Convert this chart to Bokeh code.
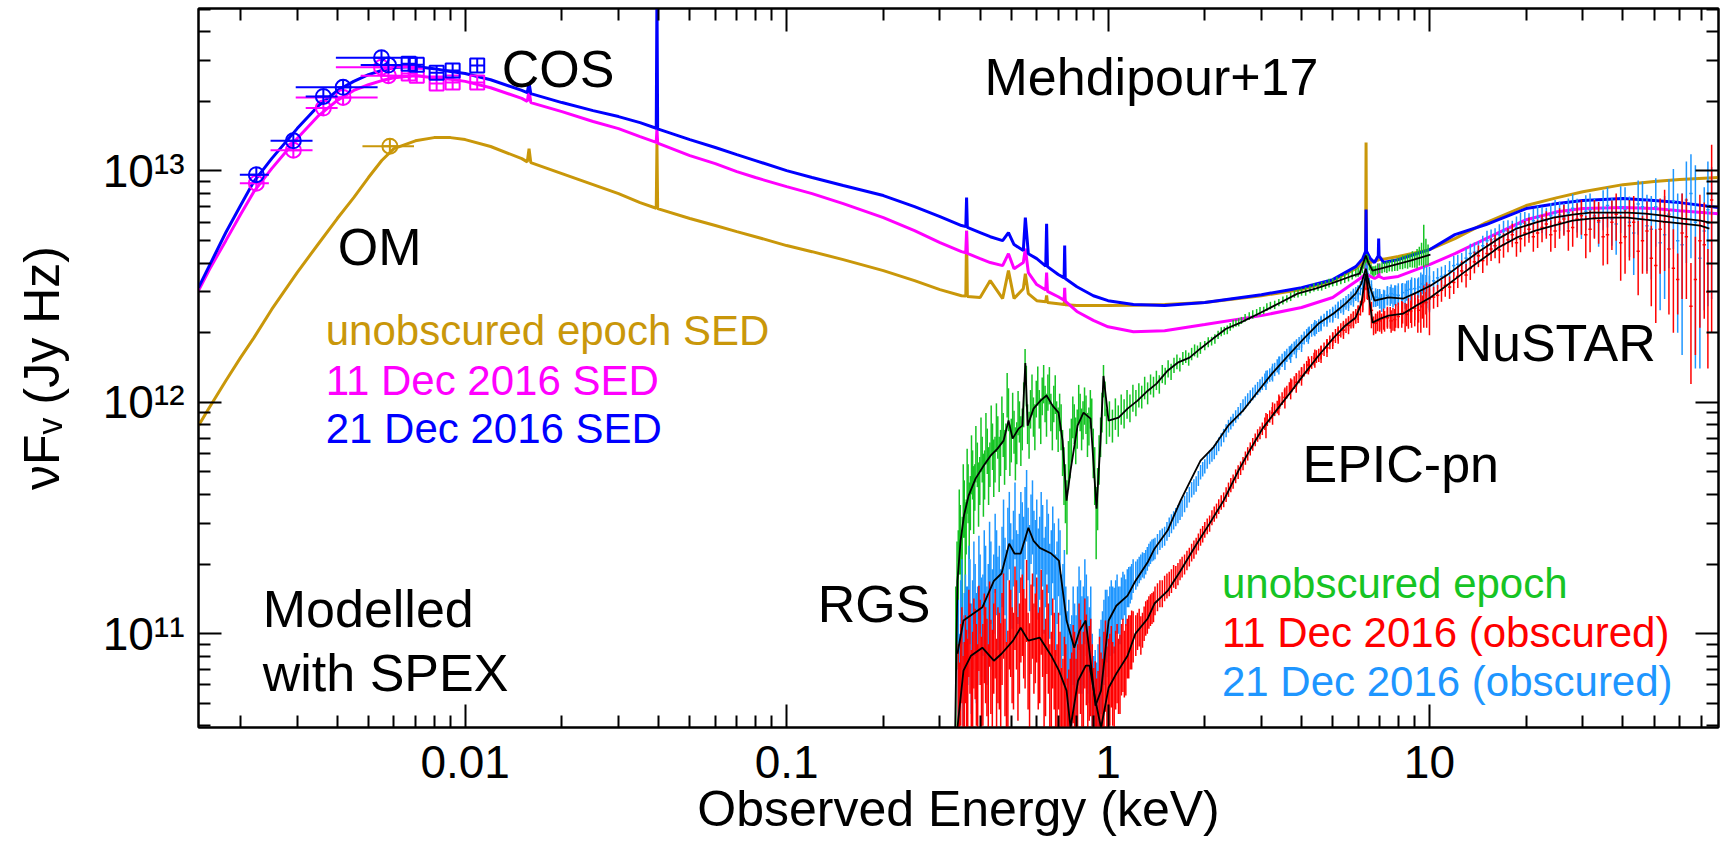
import numpy as np
from bokeh.plotting import figure
from bokeh.models import LogAxis, FixedTicker, CustomJSTickFormatter
from bokeh.core.properties import value
from bokeh.embed import file_html
from bokeh.resources import INLINE

U = 1e12  # all flux arrays below are in units of 1e12 Jy Hz

# ---------------- SED models (energy in keV) ----------------
SED_E = [0.00148, 0.0016, 0.0018, 0.002, 0.0022, 0.0025, 0.003, 0.0035, 0.004, 0.0045,
         0.005, 0.0055, 0.006, 0.007, 0.008, 0.009, 0.01, 0.012, 0.015, 0.0156,
         0.0158, 0.016, 0.02, 0.025, 0.03, 0.035, 0.0393, 0.0395, 0.0397, 0.05,
         0.06, 0.07, 0.08, 0.1, 0.12, 0.15, 0.2, 0.25, 0.3, 0.35,
         0.361, 0.363, 0.365, 0.4, 0.43, 0.47, 0.49, 0.51, 0.545, 0.553,
         0.565, 0.6, 0.64, 0.644, 0.648, 0.7, 0.73, 0.733, 0.736, 0.8,
         0.9, 1.0, 1.2, 1.5, 2, 3, 4, 5, 5.9, 6.2,
         6.33, 6.35, 6.37, 6.55, 6.75, 6.93, 6.95, 6.97, 7.2, 8,
         10, 12, 15, 20, 25, 30, 40, 50, 60, 79.3]
SED_21DEC = [3.13, 3.90, 5.42, 7.09, 9.00, 11.31, 15.25, 19.18, 22.27, 24.4,
             26.1, 27.2, 28.0, 28.3, 27.7, 26.9, 26.4, 24.8, 22.3, 21.8,
             24.1, 21.6, 19.76, 18.24, 17.19, 16.19, 15.3, 60.0, 15.2, 13.67,
             12.63, 11.77, 11.09, 10.04, 9.37, 8.65, 7.83, 7.02, 6.35, 5.81,
             5.75, 7.67, 5.70, 5.42, 5.20, 5.00, 5.42, 4.81, 4.53, 6.29,
             4.39, 4.18, 3.88, 5.92, 3.86, 3.57, 3.45, 4.76, 3.43, 3.16,
             2.89, 2.75, 2.65, 2.62, 2.70, 2.92, 3.13, 3.39, 3.86, 4.18,
             4.5, 6.81, 4.5, 4.18, 4.02, 4.3, 5.10, 4.3, 4.02, 4.14,
             4.57, 5.31, 5.87, 6.88, 7.23, 7.45, 7.60, 7.45, 7.30, 6.95]
SED_11DEC = [3.04, 3.75, 5.00, 6.48, 8.14, 10.24, 13.81, 17.36, 20.2, 22.3,
             23.6, 24.6, 25.3, 25.8, 25.3, 24.9, 24.4, 22.9, 20.6, 20.0,
             22.3, 19.76, 18.06, 16.36, 15.25, 14.08, 13.3, 15.2, 13.2, 11.66,
             10.76, 9.94, 9.37, 8.56, 7.98, 7.23, 6.29, 5.52, 4.90, 4.48,
             4.43, 5.52, 4.40, 4.18, 4.02, 3.90, 4.39, 3.78, 4.02, 4.62,
             3.64, 3.23, 3.06, 3.64, 3.02, 2.86, 2.76, 3.13, 2.74, 2.47,
             2.26, 2.12, 2.02, 2.04, 2.17, 2.37, 2.57, 2.84, 3.33, 3.50,
             3.6, 4.10, 3.6, 3.50, 3.43, 3.5, 3.98, 3.5, 3.43, 3.50,
             3.94, 4.39, 5.10, 6.16, 6.67, 6.88, 6.95, 6.88, 6.74, 6.54]
SED_UNOBS = [0.793, 0.949, 1.24, 1.56, 1.90, 2.52, 3.64, 4.86, 6.23, 7.67,
             9.37, 11.1, 12.50, 13.5, 13.94, 13.94, 13.67, 12.76, 11.31, 10.95,
             12.5, 10.87, 9.74, 8.73, 7.98, 7.30, 6.9, 13.14, 6.88, 6.23,
             5.81, 5.47, 5.20, 4.76, 4.48, 4.14, 3.71, 3.36, 3.07, 2.89,
             2.88, 5.52, 2.87, 2.84, 3.36, 2.81, 3.71, 2.81, 3.10, 3.60,
             2.95, 2.75, 2.72, 2.9, 2.70, 2.67, 2.65, 2.8, 2.64, 2.62,
             2.62, 2.62, 2.63, 2.65, 2.70, 2.89, 3.07, 3.36, 3.78, 4.02,
             4.2, 13.27, 4.2, 4.02, 4.08, 4.12, 4.14, 4.14, 4.16, 4.27,
             4.57, 5.10, 5.98, 7.09, 7.67, 8.14, 8.73, 9.00, 9.18, 9.37]

# ---------------- OM photometry and COS continuum points ----------------
OM_E = [0.00224, 0.00292, 0.00362, 0.00417, 0.00549, 0.00577]
OM_E_LO = [0.00199, 0.00248, 0.00319, 0.00297, 0.00396, 0.00473]
OM_E_HI = [0.00245, 0.00335, 0.00401, 0.00534, 0.00712, 0.00727]
OM_21DEC = [9.64, 13.5, 21.0, 23.0, 30.9, 28.7]
OM_11DEC = [8.85, 12.3, 18.7, 20.8, 28.1, 25.8]
OM_UNOBS_E = [0.00583]
OM_UNOBS_E_LO = [0.00479]
OM_UNOBS_E_HI = [0.00693]
OM_UNOBS = [12.8]
COS_E = [0.00667, 0.00707, 0.00815, 0.00914, 0.0109]
COS_21DEC = [29.1, 28.8, 26.6, 27.2, 28.6]
COS_11DEC = [26.4, 25.8, 23.9, 24.1, 24.1]

# ---------------- X-ray: unobscured epoch (RGS + EPIC-pn) ----------------
UNOBS_E = [0.336, 0.342, 0.347, 0.352, 0.357, 0.362, 0.367, 0.373, 0.379, 0.385,
           0.392, 0.399, 0.406, 0.413, 0.421, 0.429, 0.437, 0.445, 0.454, 0.463,
           0.472, 0.481, 0.490, 0.500, 0.510, 0.520, 0.530, 0.541, 0.552, 0.562,
           0.574, 0.586, 0.598, 0.611, 0.624, 0.637, 0.650, 0.664, 0.678, 0.692,
           0.707, 0.722, 0.737, 0.753, 0.769, 0.785, 0.802, 0.819, 0.836, 0.854,
           0.872, 0.890, 0.909, 0.928, 0.948, 0.968, 0.989, 1.010, 1.032, 1.054,
           1.076, 1.099, 1.122, 1.146, 1.170, 1.195, 1.221, 1.247, 1.273, 1.300,
           1.328, 1.356, 1.385, 1.414, 1.444, 1.475, 1.506, 1.538, 1.571, 1.604,
           1.638, 1.673, 1.709, 1.745, 1.782, 1.820, 1.859, 1.898, 1.938,
           2.0, 2.1, 2.2, 2.3, 2.4, 2.5, 2.6, 2.75, 2.9, 3.05,
           3.2, 3.4, 3.6, 3.8, 4.0, 4.25, 4.5, 4.75, 5.0, 5.3,
           5.6, 5.9, 6.1, 6.25, 6.38, 6.5, 6.65, 6.8, 7.0, 7.25,
           7.5, 7.8, 8.1, 8.4, 8.7, 9.0, 9.3, 9.6, 9.9]
UNOBS_F = [0.10, 0.20, 0.27, 0.22, 0.36, 0.30, 0.42, 0.38, 0.50, 0.44,
           0.55, 0.47, 0.58, 0.50, 0.63, 0.55, 0.66, 0.58, 0.72, 0.62,
           0.74, 0.66, 0.95, 0.70, 0.76, 0.68, 0.84, 0.78, 1.45, 0.82,
           0.95, 0.88, 1.05, 0.95, 1.08, 1.00, 1.12, 0.92, 1.00, 0.85,
           0.92, 0.62, 0.42, 0.55, 0.70, 0.82, 0.78, 0.92, 0.85, 0.90,
           0.80, 0.88, 0.50, 0.40, 0.72, 1.25, 0.80, 0.86, 0.80, 0.90,
           0.84, 0.94, 0.90, 0.99, 0.95, 1.05, 1.00, 1.08, 1.06, 1.16,
           1.10, 1.20, 1.17, 1.25, 1.20, 1.33, 1.30, 1.40, 1.36, 1.45,
           1.50, 1.46, 1.55, 1.58, 1.54, 1.62, 1.68, 1.66, 1.72,
           1.76, 1.84, 1.96, 2.04, 2.12, 2.20, 2.26, 2.36, 2.44, 2.50,
           2.62, 2.70, 2.80, 2.94, 3.00, 3.08, 3.16, 3.22, 3.30, 3.38,
           3.48, 3.62, 3.70, 3.96, 4.20, 3.90, 3.70, 3.72, 3.80, 3.84,
           3.88, 3.92, 4.00, 4.06, 4.12, 4.14, 4.30, 4.80, 4.36]
UNOBS_ERR = [0.06, 0.08, 0.09, 0.10, 0.10, 0.08, 0.12, 0.10, 0.12, 0.10,
             0.12, 0.11, 0.13, 0.12, 0.14, 0.12, 0.15, 0.13, 0.15, 0.14,
             0.16, 0.15, 0.20, 0.15, 0.16, 0.14, 0.17, 0.16, 0.25, 0.16,
             0.18, 0.17, 0.19, 0.18, 0.20, 0.18, 0.20, 0.17, 0.18, 0.16,
             0.17, 0.14, 0.12, 0.13, 0.15, 0.16, 0.15, 0.17, 0.16, 0.17,
             0.15, 0.16, 0.14, 0.12, 0.14, 0.20, 0.14, 0.15, 0.13, 0.14,
             0.13, 0.14, 0.13, 0.14, 0.13, 0.14, 0.13, 0.13, 0.12, 0.13,
             0.12, 0.12, 0.12, 0.12, 0.11, 0.12, 0.11, 0.12, 0.11, 0.11,
             0.11, 0.10, 0.10, 0.10, 0.10, 0.10, 0.10, 0.10, 0.10,
             0.08, 0.08, 0.08, 0.08, 0.08, 0.08, 0.08, 0.09, 0.09, 0.09,
             0.10, 0.10, 0.10, 0.11, 0.11, 0.12, 0.12, 0.13, 0.13, 0.14,
             0.15, 0.15, 0.16, 0.18, 0.18, 0.18, 0.17, 0.18, 0.18, 0.19,
             0.20, 0.22, 0.24, 0.26, 0.28, 0.32, 0.40, 1.05, 0.45]
# interleaved unobscured bins
UNOBS2_E = [0.339, 0.3445, 0.3495, 0.3545, 0.3595, 0.3645, 0.370, 0.376, 0.382, 0.388,
            0.3955, 0.4025, 0.4095, 0.417, 0.425, 0.433, 0.441, 0.4495, 0.4585, 0.4675,
            0.4765, 0.4855, 0.495, 0.505, 0.515, 0.525, 0.5355, 0.5465, 0.557, 0.568,
            0.580, 0.592, 0.6045, 0.6175, 0.6305, 0.6435, 0.657, 0.671, 0.685, 0.6995,
            0.7145, 0.7295, 0.745, 0.761, 0.777, 0.7935, 0.8105, 0.8275, 0.845, 0.863,
            0.881, 0.8995, 0.9185, 0.938, 0.958, 0.9785,
            2.05, 2.15, 2.25, 2.35, 2.45, 2.55, 2.67, 2.82, 2.97, 3.12,
            3.3, 3.5, 3.7, 3.9, 4.12, 4.37, 4.62, 4.87, 5.15, 5.45,
            5.75, 6.0, 6.18, 6.32, 6.44, 6.58, 6.72, 6.9, 7.12, 7.37,
            7.65, 7.95, 8.25, 8.55, 8.85, 9.15, 9.45, 9.75]
UNOBS2_F = [0.16, 0.30, 0.18, 0.40, 0.26, 0.48, 0.33, 0.56, 0.40, 0.62,
            0.42, 0.68, 0.46, 0.72, 0.50, 0.78, 0.54, 0.80, 0.56, 0.86,
            0.60, 1.10, 0.64, 0.90, 0.62, 0.92, 0.70, 1.00, 1.20, 0.74,
            1.10, 0.80, 1.20, 0.85, 1.22, 0.90, 1.20, 0.80, 1.10, 0.78,
            0.80, 0.50, 0.34, 0.62, 0.88, 0.70, 1.00, 0.78, 0.98, 0.74,
            0.95, 0.62, 0.32, 0.58, 0.92, 1.05,
            1.82, 1.88, 2.02, 2.06, 2.18, 2.22, 2.32, 2.40, 2.48, 2.58,
            2.64, 2.76, 2.86, 2.96, 3.02, 3.14, 3.18, 3.28, 3.34, 3.44,
            3.56, 3.66, 3.80, 4.10, 4.10, 3.76, 3.68, 3.78, 3.82, 3.84,
            3.92, 3.96, 4.04, 4.08, 4.16, 4.20, 4.40, 4.50]
UNOBS2_ERR = [0.09, 0.12, 0.10, 0.14, 0.11, 0.15, 0.12, 0.16, 0.13, 0.17,
              0.13, 0.18, 0.14, 0.18, 0.14, 0.19, 0.15, 0.19, 0.15, 0.20,
              0.16, 0.24, 0.16, 0.20, 0.16, 0.20, 0.17, 0.22, 0.24, 0.17,
              0.22, 0.18, 0.23, 0.19, 0.23, 0.19, 0.22, 0.18, 0.21, 0.17,
              0.18, 0.14, 0.12, 0.15, 0.18, 0.16, 0.19, 0.16, 0.18, 0.16,
              0.18, 0.15, 0.11, 0.14, 0.18, 0.18,
              0.09, 0.09, 0.09, 0.09, 0.09, 0.09, 0.09, 0.10, 0.10, 0.10,
              0.11, 0.11, 0.12, 0.12, 0.13, 0.13, 0.14, 0.14, 0.15, 0.16,
              0.16, 0.17, 0.18, 0.20, 0.20, 0.19, 0.19, 0.20, 0.21, 0.22,
              0.24, 0.26, 0.28, 0.30, 0.34, 0.40, 0.50, 0.60]
UNOBS_MODEL_E = [0.3346, 0.340, 0.3477, 0.3563, 0.3683, 0.3871, 0.4101, 0.4311, 0.4532, 0.4732,
                 0.4903, 0.5047, 0.5268, 0.5412, 0.553, 0.5622, 0.5865, 0.6166, 0.6438, 0.6721,
                 0.7015, 0.7221, 0.743, 0.7644, 0.8039, 0.8388, 0.8822, 0.921, 0.9477, 0.968,
                 1.0037, 1.0782, 1.1502, 1.2354, 1.3269, 1.4157, 1.532, 1.646, 1.793, 1.94,
                 2.123, 2.33, 2.583, 2.981, 3.44, 3.886, 4.42, 5.03, 5.68, 6.06,
                 6.23, 6.34, 6.45, 6.65, 7.04, 7.84, 8.73, 10.07]
UNOBS_MODEL_F = [0.0392, 0.169, 0.252, 0.324, 0.395, 0.468, 0.532, 0.588, 0.631, 0.683,
                 0.834, 0.697, 0.770, 0.793, 1.48, 0.793, 0.939, 1.017, 1.07, 0.968,
                 0.903, 0.683, 0.376, 0.507, 0.793, 0.903, 0.850, 0.347, 0.683, 1.30,
                 0.834, 0.859, 0.939, 1.017, 1.12, 1.205, 1.37, 1.484, 1.56, 1.71,
                 1.886, 2.08, 2.21, 2.44, 2.70, 2.95, 3.10, 3.29, 3.50, 3.60,
                 4.02, 4.31, 4.02, 3.71, 3.78, 3.94, 4.10, 4.35]

# ---------------- X-ray: obscured epochs, RGS + EPIC-pn ----------------
OBSC_E = [0.342, 0.348, 0.354, 0.360, 0.366, 0.372, 0.379, 0.386, 0.393, 0.400,
          0.408, 0.416, 0.424, 0.432, 0.441, 0.450, 0.459, 0.468, 0.478, 0.488,
          0.498, 0.508, 0.519, 0.530, 0.541, 0.552, 0.564, 0.576, 0.588, 0.600,
          0.613, 0.626, 0.639, 0.652, 0.666, 0.680, 0.694, 0.709, 0.724, 0.739,
          0.755, 0.771, 0.787, 0.804, 0.821, 0.838, 0.856, 0.874, 0.893, 0.912,
          0.931, 0.951, 0.971, 0.992, 1.013, 1.034, 1.056, 1.078, 1.101, 1.124,
          1.148, 1.172, 1.197,
          1.22, 1.25, 1.28, 1.31, 1.34, 1.37, 1.40, 1.45, 1.50, 1.55,
          1.60, 1.65, 1.70, 1.76, 1.82, 1.88, 1.94, 2.00, 2.07, 2.14,
          2.21, 2.29, 2.37, 2.45, 2.54, 2.63, 2.72, 2.82, 2.92, 3.02,
          3.13, 3.24, 3.36, 3.48, 3.60, 3.73, 3.86, 4.00, 4.15, 4.30,
          4.45, 4.60, 4.80, 5.00, 5.20, 5.40, 5.60, 5.80, 6.00, 6.20,
          6.35, 6.50, 6.70, 6.90, 7.10, 7.40, 7.70, 8.00, 8.40, 8.80,
          9.20, 9.60, 10.0]
DEC11_F = [0.060, 0.075, 0.050, 0.085, 0.065, 0.095, 0.070, 0.090, 0.060, 0.100,
           0.075, 0.090, 0.060, 0.080, 0.095, 0.065, 0.085, 0.105, 0.080, 0.070,
           0.110, 0.085, 0.120, 0.095, 0.130, 0.100, 0.085, 0.115, 0.095, 0.125,
           0.090, 0.110, 0.080, 0.095, 0.070, 0.085, 0.060, 0.070, 0.050, 0.060,
           0.045, 0.055, 0.070, 0.060, 0.080, 0.070, 0.085, 0.075, 0.060, 0.050,
           0.045, 0.055, 0.070, 0.060, 0.070, 0.066, 0.075, 0.070, 0.082, 0.078,
           0.090, 0.095, 0.100,
           0.100, 0.108, 0.105, 0.118, 0.125, 0.130, 0.140, 0.150, 0.158, 0.165,
           0.178, 0.182, 0.195, 0.208, 0.225, 0.240, 0.262, 0.282, 0.300, 0.330,
           0.355, 0.380, 0.420, 0.455, 0.500, 0.545, 0.600, 0.660, 0.720, 0.770,
           0.840, 0.900, 0.955, 1.040, 1.110, 1.180, 1.250, 1.330, 1.420, 1.490,
           1.580, 1.640, 1.760, 1.880, 1.990, 2.100, 2.200, 2.300, 2.450, 2.700,
           3.300, 2.600, 2.150, 2.250, 2.200, 2.350, 2.300, 2.400, 2.350, 2.500,
           2.450, 2.650, 2.600]
DEC11_ERR = [0.030, 0.035, 0.030, 0.035, 0.030, 0.040, 0.032, 0.038, 0.030, 0.040,
             0.035, 0.040, 0.030, 0.035, 0.040, 0.030, 0.038, 0.045, 0.036, 0.033,
             0.045, 0.038, 0.050, 0.040, 0.050, 0.042, 0.038, 0.048, 0.040, 0.050,
             0.040, 0.045, 0.036, 0.040, 0.032, 0.038, 0.030, 0.032, 0.028, 0.030,
             0.025, 0.028, 0.032, 0.030, 0.035, 0.032, 0.036, 0.033, 0.030, 0.026,
             0.024, 0.028, 0.032, 0.028, 0.030, 0.026, 0.028, 0.025, 0.028, 0.025,
             0.026, 0.025, 0.025,
             0.020, 0.020, 0.018, 0.020, 0.020, 0.020, 0.020, 0.020, 0.020, 0.020,
             0.020, 0.020, 0.020, 0.020, 0.020, 0.020, 0.022, 0.022, 0.024, 0.025,
             0.026, 0.028, 0.030, 0.032, 0.034, 0.036, 0.040, 0.042, 0.045, 0.048,
             0.050, 0.055, 0.060, 0.065, 0.070, 0.075, 0.080, 0.085, 0.090, 0.095,
             0.100, 0.110, 0.120, 0.130, 0.140, 0.150, 0.160, 0.170, 0.180, 0.200,
             0.250, 0.220, 0.200, 0.220, 0.220, 0.240, 0.260, 0.300, 0.340, 0.400,
             0.450, 0.550, 0.650]
DEC21_F = [0.090, 0.120, 0.080, 0.130, 0.110, 0.150, 0.120, 0.140, 0.110, 0.160,
           0.130, 0.170, 0.140, 0.180, 0.160, 0.200, 0.170, 0.210, 0.190, 0.260,
           0.220, 0.250, 0.200, 0.240, 0.270, 0.320, 0.260, 0.300, 0.250, 0.280,
           0.230, 0.260, 0.210, 0.240, 0.200, 0.220, 0.180, 0.200, 0.140, 0.110,
           0.090, 0.080, 0.095, 0.110, 0.120, 0.110, 0.130, 0.090, 0.065, 0.055,
           0.060, 0.080, 0.100, 0.115, 0.120, 0.125, 0.135, 0.130, 0.145, 0.150,
           0.160, 0.165, 0.180,
           0.180, 0.190, 0.200, 0.205, 0.220, 0.230, 0.235, 0.255, 0.265, 0.290,
           0.310, 0.330, 0.350, 0.380, 0.420, 0.445, 0.500, 0.530, 0.580, 0.610,
           0.660, 0.720, 0.790, 0.840, 0.900, 0.970, 1.030, 1.090, 1.150, 1.210,
           1.290, 1.340, 1.440, 1.520, 1.600, 1.680, 1.760, 1.840, 1.950, 2.050,
           2.110, 2.200, 2.340, 2.400, 2.560, 2.640, 2.750, 2.900, 3.000, 3.250,
           3.700, 3.200, 2.800, 2.850, 2.700, 2.900, 2.850, 2.950, 2.900, 3.050,
           2.950, 3.250, 3.150]
DEC21_ERR = [0.05, 0.05, 0.04, 0.05, 0.05, 0.06, 0.05, 0.06, 0.05, 0.06,
             0.05, 0.07, 0.06, 0.07, 0.06, 0.08, 0.07, 0.08, 0.07, 0.09,
             0.08, 0.09, 0.08, 0.09, 0.10, 0.11, 0.09, 0.10, 0.09, 0.10,
             0.09, 0.10, 0.08, 0.09, 0.08, 0.08, 0.07, 0.08, 0.06, 0.05,
             0.05, 0.04, 0.04, 0.05, 0.05, 0.05, 0.05, 0.04, 0.035, 0.03,
             0.03, 0.035, 0.04, 0.04, 0.04, 0.035, 0.035, 0.03, 0.03, 0.03,
             0.03, 0.03, 0.03,
             0.025, 0.025, 0.025, 0.025, 0.025, 0.025, 0.025, 0.025, 0.025, 0.028,
             0.028, 0.030, 0.030, 0.030, 0.032, 0.034, 0.036, 0.038, 0.040, 0.042,
             0.045, 0.048, 0.050, 0.052, 0.055, 0.060, 0.065, 0.070, 0.075, 0.080,
             0.085, 0.090, 0.095, 0.100, 0.105, 0.110, 0.115, 0.120, 0.125, 0.130,
             0.135, 0.140, 0.150, 0.160, 0.170, 0.180, 0.190, 0.200, 0.210, 0.230,
             0.280, 0.250, 0.220, 0.240, 0.240, 0.260, 0.280, 0.320, 0.360, 0.420,
             0.480, 0.600, 0.700]
# interleaved obscured bins (RGS part, then EPIC-pn part)
OBSC2_E = [0.345, 0.351, 0.357, 0.363, 0.369, 0.3755, 0.3825, 0.3895, 0.3965, 0.404,
           0.412, 0.420, 0.428, 0.4365, 0.4455, 0.4545, 0.4635, 0.473, 0.483, 0.493,
           0.503, 0.5135, 0.5245, 0.5355, 0.5465, 0.558, 0.570, 0.582, 0.594, 0.6065,
           0.6195, 0.6325, 0.6455, 0.659, 0.673, 0.687, 0.7015, 0.7165, 0.7315, 0.747,
           0.763, 0.779, 0.7955, 0.8125, 0.8295, 0.847, 0.865, 0.8835, 0.9025, 0.9215,
           0.941, 0.961, 0.9815, 1.0025, 1.0235, 1.045, 1.067, 1.0895, 1.1125, 1.136,
           1.160, 1.1845,
           1.235, 1.265, 1.295, 1.325, 1.355, 1.385, 1.425, 1.475, 1.525, 1.575,
           1.625, 1.675, 1.73, 1.79, 1.85, 1.91, 1.97, 2.035, 2.105, 2.175,
           2.25, 2.33, 2.41, 2.495, 2.585, 2.675, 2.77, 2.87, 2.97, 3.075,
           3.185, 3.3, 3.42, 3.54, 3.665, 3.795, 3.93, 4.075, 4.225, 4.375,
           4.525, 4.7, 4.9, 5.1, 5.3, 5.5, 5.7, 5.9, 6.1, 6.28,
           6.42, 6.6, 6.8, 7.0, 7.25, 7.55, 7.85, 8.2, 8.6, 9.0,
           9.4, 9.8]
DEC11_2F = [0.045, 0.090, 0.060, 0.070, 0.110, 0.055, 0.100, 0.075, 0.115, 0.065,
            0.105, 0.080, 0.120, 0.070, 0.110, 0.090, 0.075, 0.130, 0.060, 0.120,
            0.090, 0.140, 0.080, 0.125, 0.110, 0.150, 0.075, 0.130, 0.105, 0.085,
            0.135, 0.070, 0.115, 0.060, 0.100, 0.055, 0.085, 0.045, 0.065, 0.040,
            0.050, 0.075, 0.050, 0.095, 0.060, 0.100, 0.065, 0.080, 0.045, 0.040,
            0.065, 0.050, 0.080, 0.065, 0.078, 0.060, 0.080, 0.072, 0.086, 0.082,
            0.092, 0.098,
            0.104, 0.100, 0.112, 0.120, 0.128, 0.132, 0.145, 0.150, 0.162, 0.170,
            0.176, 0.190, 0.200, 0.215, 0.232, 0.250, 0.270, 0.292, 0.318, 0.340,
            0.370, 0.400, 0.440, 0.480, 0.520, 0.575, 0.630, 0.690, 0.740, 0.810,
            0.870, 0.930, 1.000, 1.070, 1.150, 1.220, 1.290, 1.380, 1.450, 1.540,
            1.600, 1.700, 1.820, 1.940, 2.050, 2.150, 2.250, 2.360, 2.560, 2.950,
            3.000, 2.300, 2.200, 2.280, 2.250, 2.330, 2.380, 2.420, 2.450, 2.550,
            2.500, 2.700]
DEC11_2ERR = [0.030, 0.040, 0.032, 0.034, 0.045, 0.030, 0.042, 0.035, 0.046, 0.032,
              0.044, 0.036, 0.048, 0.034, 0.046, 0.040, 0.036, 0.052, 0.032, 0.050,
              0.040, 0.055, 0.038, 0.050, 0.046, 0.058, 0.036, 0.052, 0.044, 0.038,
              0.054, 0.034, 0.048, 0.030, 0.042, 0.030, 0.038, 0.026, 0.032, 0.024,
              0.028, 0.034, 0.028, 0.040, 0.030, 0.042, 0.032, 0.036, 0.026, 0.024,
              0.032, 0.028, 0.034, 0.030, 0.030, 0.028, 0.030, 0.027, 0.030, 0.028,
              0.028, 0.028,
              0.019, 0.019, 0.019, 0.020, 0.020, 0.020, 0.020, 0.020, 0.020, 0.020,
              0.020, 0.020, 0.020, 0.020, 0.021, 0.021, 0.022, 0.023, 0.024, 0.025,
              0.027, 0.029, 0.031, 0.033, 0.035, 0.038, 0.041, 0.044, 0.047, 0.050,
              0.053, 0.058, 0.062, 0.068, 0.072, 0.078, 0.082, 0.088, 0.092, 0.098,
              0.105, 0.115, 0.125, 0.135, 0.145, 0.155, 0.165, 0.175, 0.190, 0.230,
              0.230, 0.210, 0.210, 0.220, 0.230, 0.250, 0.280, 0.320, 0.370, 0.420,
              0.500, 0.600]
DEC21_2F = [0.060, 0.150, 0.100, 0.110, 0.170, 0.090, 0.180, 0.100, 0.190, 0.120,
            0.200, 0.110, 0.220, 0.130, 0.240, 0.150, 0.130, 0.280, 0.160, 0.300,
            0.180, 0.330, 0.190, 0.300, 0.230, 0.380, 0.210, 0.340, 0.220, 0.200,
            0.300, 0.180, 0.280, 0.170, 0.260, 0.150, 0.230, 0.120, 0.160, 0.080,
            0.070, 0.110, 0.080, 0.140, 0.100, 0.150, 0.100, 0.110, 0.050, 0.045,
            0.070, 0.085, 0.110, 0.105, 0.130, 0.120, 0.140, 0.125, 0.150, 0.140,
            0.162, 0.170,
            0.185, 0.195, 0.198, 0.212, 0.225, 0.232, 0.245, 0.260, 0.278, 0.300,
            0.320, 0.340, 0.365, 0.400, 0.432, 0.470, 0.515, 0.555, 0.595, 0.635,
            0.690, 0.755, 0.815, 0.870, 0.935, 1.000, 1.060, 1.120, 1.180, 1.250,
            1.315, 1.390, 1.480, 1.560, 1.640, 1.720, 1.800, 1.900, 2.000, 2.080,
            2.150, 2.270, 2.370, 2.480, 2.600, 2.700, 2.820, 2.950, 3.120, 3.450,
            3.450, 3.000, 2.820, 2.780, 2.800, 2.880, 2.900, 2.920, 2.980, 3.000,
            3.100, 3.200]
DEC21_2ERR = [0.040, 0.060, 0.050, 0.050, 0.070, 0.045, 0.070, 0.050, 0.075, 0.055,
              0.080, 0.050, 0.085, 0.060, 0.090, 0.065, 0.060, 0.100, 0.070, 0.110,
              0.075, 0.120, 0.080, 0.110, 0.090, 0.130, 0.085, 0.120, 0.090, 0.085,
              0.110, 0.080, 0.100, 0.075, 0.095, 0.070, 0.085, 0.060, 0.070, 0.045,
              0.040, 0.050, 0.040, 0.055, 0.045, 0.060, 0.045, 0.050, 0.030, 0.030,
              0.035, 0.040, 0.045, 0.040, 0.040, 0.038, 0.040, 0.035, 0.035, 0.032,
              0.032, 0.030,
              0.025, 0.025, 0.025, 0.025, 0.025, 0.025, 0.025, 0.025, 0.026, 0.028,
              0.029, 0.030, 0.030, 0.031, 0.033, 0.035, 0.037, 0.039, 0.041, 0.044,
              0.046, 0.049, 0.051, 0.054, 0.058, 0.062, 0.068, 0.072, 0.078, 0.082,
              0.088, 0.092, 0.098, 0.102, 0.108, 0.112, 0.118, 0.122, 0.128, 0.132,
              0.138, 0.145, 0.155, 0.165, 0.175, 0.185, 0.195, 0.205, 0.220, 0.260,
              0.260, 0.240, 0.230, 0.240, 0.250, 0.270, 0.300, 0.340, 0.390, 0.450,
              0.540, 0.650]

# ---------------- X-ray: obscured epochs, NuSTAR ----------------
NU_E = [3.1, 3.4, 3.7, 4.0, 4.4, 4.8, 5.2, 5.6, 6.0, 6.4,
        6.8, 7.2, 7.6, 8.0, 8.5, 9.0, 9.5, 10.0, 10.6, 11.2,
        11.9, 12.6, 13.4, 14.2, 15.1, 16.0, 17.0, 18.1, 19.2, 20.4,
        21.7, 23.1, 24.6, 26.2, 27.9, 29.7, 31.6, 33.6, 35.8, 38.1,
        40.6, 43.2, 46.0, 49.0, 52.2, 55.6, 59.2, 63.0, 67.2, 71.6,
        75.5,
        3.25, 3.55, 3.85, 4.2, 4.6, 5.0, 5.4, 5.8, 6.2, 6.6,
        7.0, 7.4, 7.8, 8.25, 8.75, 9.25, 9.75, 10.3, 10.9, 11.55,
        12.25, 13.0, 13.8, 14.65, 15.55, 16.5, 17.55, 18.65, 19.8, 21.05,
        22.4, 23.85, 25.4, 27.05, 28.8, 30.65, 32.6, 34.7, 36.95, 39.35,
        41.9, 44.6, 47.5, 50.6, 53.9, 57.4, 61.1, 65.1, 69.4, 73.5]
NU_DEC11_F = [0.80, 0.98, 1.15, 1.30, 1.55, 1.72, 1.95, 2.15, 2.40, 3.10,
              2.20, 2.30, 2.25, 2.35, 2.40, 2.55, 2.60, 2.80, 2.90, 3.20,
              3.30, 3.70, 3.80, 4.30, 4.40, 4.75, 4.80, 5.30, 5.10, 5.60,
              5.40, 5.90, 5.50, 6.20, 5.70, 6.40, 5.60, 6.10, 5.30, 6.50,
              5.20, 6.00, 5.00, 4.20, 5.60, 4.60, 3.40, 5.20, 3.40, 4.80,
              7.50,
              0.90, 1.05, 1.22, 1.45, 1.62, 1.85, 2.05, 2.28, 2.70, 2.50,
              2.25, 2.32, 2.28, 2.45, 2.48, 2.50, 2.70, 2.85, 3.05, 3.15,
              3.50, 3.55, 4.05, 4.10, 4.60, 4.55, 5.05, 4.90, 5.40, 5.20,
              5.70, 5.30, 6.00, 5.50, 6.20, 5.30, 6.30, 5.20, 6.00, 4.90,
              5.80, 4.50, 5.50, 3.90, 6.00, 3.80, 5.40, 2.60, 5.00, 3.00]
NU_DEC11_ERR = [0.10, 0.10, 0.12, 0.12, 0.14, 0.15, 0.16, 0.18, 0.20, 0.30,
                0.22, 0.24, 0.25, 0.26, 0.27, 0.28, 0.30, 0.30, 0.32, 0.34,
                0.36, 0.40, 0.42, 0.46, 0.50, 0.55, 0.58, 0.62, 0.65, 0.70,
                0.75, 0.80, 0.85, 0.95, 1.00, 1.10, 1.15, 1.25, 1.35, 1.50,
                1.60, 1.80, 1.40, 1.60, 2.00, 2.20, 1.00, 2.40, 1.80, 2.50,
                5.50,
                0.10, 0.11, 0.12, 0.13, 0.14, 0.15, 0.17, 0.19, 0.25, 0.22,
                0.23, 0.24, 0.25, 0.26, 0.28, 0.29, 0.30, 0.31, 0.33, 0.35,
                0.38, 0.41, 0.44, 0.48, 0.52, 0.56, 0.60, 0.64, 0.68, 0.72,
                0.78, 0.82, 0.90, 0.98, 1.05, 1.10, 1.20, 1.30, 1.45, 1.55,
                1.70, 1.60, 1.90, 1.70, 2.30, 1.80, 2.60, 1.40, 2.90, 1.60]
NU_DEC21_F = [1.25, 1.45, 1.62, 1.80, 2.10, 2.30, 2.50, 2.70, 2.95, 3.60,
              2.85, 2.80, 2.95, 2.90, 3.05, 3.10, 3.25, 3.20, 3.45, 3.55,
              3.90, 4.00, 4.40, 4.50, 5.00, 5.10, 5.50, 5.45, 5.90, 5.85,
              6.30, 6.10, 6.60, 6.30, 6.90, 6.20, 6.80, 6.00, 7.10, 5.90,
              6.80, 5.40, 7.00, 5.60, 4.90, 6.50, 5.00, 7.50, 6.00, 5.50,
              6.60,
              1.35, 1.52, 1.70, 1.95, 2.20, 2.40, 2.60, 2.82, 3.10, 3.10,
              2.82, 2.90, 2.92, 2.98, 3.08, 3.15, 3.22, 3.35, 3.50, 3.70,
              3.95, 4.20, 4.45, 4.75, 5.05, 5.30, 5.50, 5.70, 5.95, 6.10,
              6.20, 6.40, 6.45, 6.60, 6.50, 6.70, 6.40, 6.90, 6.20, 7.00,
              6.00, 7.20, 5.80, 7.00, 5.30, 7.40, 4.80, 8.00, 4.20, 6.80]
NU_DEC21_ERR = [0.12, 0.13, 0.14, 0.15, 0.17, 0.18, 0.20, 0.22, 0.24, 0.32,
                0.26, 0.27, 0.28, 0.29, 0.30, 0.31, 0.32, 0.33, 0.35, 0.37,
                0.39, 0.42, 0.45, 0.48, 0.52, 0.56, 0.60, 0.64, 0.68, 0.72,
                0.78, 0.84, 0.90, 0.98, 1.05, 1.12, 1.20, 1.30, 1.40, 1.55,
                1.70, 1.85, 2.00, 2.20, 2.40, 2.70, 3.00, 3.50, 4.60, 3.00,
                3.80,
                0.12, 0.14, 0.15, 0.16, 0.17, 0.19, 0.21, 0.23, 0.28, 0.27,
                0.27, 0.28, 0.29, 0.30, 0.31, 0.32, 0.33, 0.34, 0.36, 0.38,
                0.40, 0.44, 0.46, 0.50, 0.54, 0.58, 0.62, 0.66, 0.70, 0.75,
                0.80, 0.87, 0.94, 1.00, 1.08, 1.16, 1.25, 1.35, 1.45, 1.60,
                1.75, 1.90, 2.10, 2.30, 2.50, 2.80, 3.20, 3.80, 2.80, 4.20]

# ---------------- spectral models through the obscured data ----------------
DEC11_MODEL_E = [0.340, 0.355, 0.3746, 0.4064, 0.4414, 0.4663, 0.5064, 0.5347, 0.5652, 0.6134,
                 0.6658, 0.7035, 0.743, 0.7644, 0.8068, 0.8524, 0.8761, 0.914, 0.9511, 1.0044,
                 1.0612, 1.15, 1.2167, 1.327, 1.395, 1.532, 1.681, 1.872, 2.069, 2.288,
                 2.546, 2.755, 3.024, 3.391, 3.723, 4.086, 4.516, 5.03, 5.48, 5.89,
                 6.14, 6.34, 6.51, 6.65, 7.04, 7.46, 8.30, 9.11, 10.07, 11.28,
                 12.66, 14.41, 16.39, 18.65, 21.37, 24.31, 27.85, 31.69, 36.05, 41.3,
                 46.97, 53.44, 61.24, 69.66, 74.3]
DEC11_MODEL_F = [0.0392, 0.0692, 0.0803, 0.0870, 0.0764, 0.0819, 0.0933, 0.106, 0.0933, 0.0961,
                 0.0803, 0.0692, 0.0567, 0.0392, 0.0626, 0.0727, 0.0727, 0.0513, 0.0392, 0.0584,
                 0.0672, 0.0803, 0.100, 0.116, 0.135, 0.153, 0.187, 0.240, 0.299, 0.376,
                 0.507, 0.618, 0.770, 0.949, 1.12, 1.331, 1.59, 1.90, 2.15, 2.32,
                 2.67, 3.60, 2.75, 2.21, 2.30, 2.37, 2.42, 2.62, 2.84, 3.19,
                 3.60, 4.10, 4.67, 5.15, 5.52, 5.81, 6.10, 6.23, 6.29, 6.29,
                 6.16, 6.04, 5.92, 5.81, 5.64]
DEC21_MODEL_E = [0.340, 0.355, 0.4064, 0.4414, 0.4663, 0.4925, 0.5116, 0.5347, 0.5652, 0.5865,
                 0.6134, 0.6658, 0.7035, 0.743, 0.7852, 0.8153, 0.8524, 0.8822, 0.914, 0.9511,
                 1.0044, 1.0612, 1.15, 1.2167, 1.327, 1.395, 1.532, 1.681, 1.805, 1.94,
                 2.123, 2.364, 2.63, 2.906, 3.237, 3.63, 4.086, 4.516, 5.03, 5.48,
                 5.89, 6.14, 6.34, 6.51, 6.75, 7.46, 8.30, 9.11, 10.07, 11.28,
                 12.66, 14.41, 16.39, 18.65, 21.37, 24.31, 27.85, 31.69, 36.05, 41.3,
                 46.97, 53.44, 61.24, 69.66, 74.3]
DEC21_MODEL_F = [0.0819, 0.114, 0.130, 0.169, 0.182, 0.245, 0.222, 0.222, 0.287, 0.252,
                 0.235, 0.222, 0.207, 0.114, 0.0870, 0.103, 0.114, 0.0764, 0.0488, 0.0567,
                 0.114, 0.132, 0.146, 0.169, 0.203, 0.233, 0.279, 0.376, 0.459, 0.560,
                 0.637, 0.793, 0.921, 1.10, 1.331, 1.59, 1.90, 2.19, 2.42, 2.67,
                 2.95, 3.26, 3.78, 3.19, 2.75, 2.84, 2.81, 2.98, 3.19, 3.53,
                 3.98, 4.53, 5.10, 5.64, 5.98, 6.29, 6.48, 6.61, 6.61, 6.61,
                 6.54, 6.41, 6.23, 6.10, 5.98]

# ---------------- tick values ----------------
X_MAJOR = [0.01, 0.1, 1.0, 10.0]
Y_MAJOR = [1e11, 1e12, 1e13]

# ---------------- style ----------------
FONT = "Liberation Sans"
GOLD = "#C9970A"
MAGENTA = "#FF00FF"
BLUE = "#0000FF"
GREEN = "#16C424"
RED = "#FF0000"
LBLUE = "#1E96FF"

p = figure(width=1725, height=854, x_axis_type="log", y_axis_type="log",
           x_range=(0.00148, 79.3), y_range=(3.93e10, 5.04e13),
           output_backend="svg", toolbar_location=None,
           min_border_left=198, min_border_right=7, min_border_top=8, min_border_bottom=127)
p.xgrid.visible = False
p.ygrid.visible = False
p.outline_line_color = "black"
p.outline_line_width = 2
p.background_fill_color = "white"
p.border_fill_color = "white"

x_minor = [m * 10.0 ** k for k in range(-3, 2) for m in range(2, 10)]
y_minor = [m * 10.0 ** k for k in range(10, 14) for m in range(2, 10)]

xfmt = CustomJSTickFormatter(code="return tick >= 1 ? tick.toFixed(0) : String(tick);")
yfmt = CustomJSTickFormatter(code="""
const sup = {"0":"\u2070","1":"\u00b9","2":"\u00b2","3":"\u00b3","4":"\u2074",
             "5":"\u2075","6":"\u2076","7":"\u2077","8":"\u2078","9":"\u2079","-":"\u207b"};
const e = Math.round(Math.log10(tick));
return "10" + String(e).split("").map(c => sup[c]).join("");
""")
blank_fmt = CustomJSTickFormatter(code="return ' ';")


def style_axis(ax, ticks, minor, show):
    ax.ticker = FixedTicker(ticks=ticks, minor_ticks=minor)
    ax.axis_line_color = "black"
    ax.axis_line_width = 2
    ax.major_tick_in = 23
    ax.major_tick_out = 0
    ax.minor_tick_in = 12
    ax.minor_tick_out = 0
    ax.major_tick_line_width = 2
    ax.minor_tick_line_width = 2
    ax.major_tick_line_color = "black"
    ax.minor_tick_line_color = "black"
    if show:
        ax.major_label_text_font = FONT
        ax.major_label_text_font_size = "46px"
        ax.major_label_text_color = "black"
    else:
        ax.formatter = blank_fmt
        ax.major_label_text_font_size = "2px"
        ax.major_label_text_alpha = 0
        ax.major_label_standoff = 0


xb = p.xaxis[0]
style_axis(xb, X_MAJOR, x_minor, True)
xb.formatter = xfmt
xb.major_label_standoff = 18
xb.axis_label = "Observed Energy (keV)"
xb.axis_label_text_font = FONT
xb.axis_label_text_font_size = "50px"
xb.axis_label_text_font_style = "normal"
xb.axis_label_text_color = "black"
xb.axis_label_standoff = 0

yl = p.yaxis[0]
style_axis(yl, Y_MAJOR, y_minor, True)
yl.formatter = yfmt
yl.major_label_standoff = 14
yl.axis_label = "\u03bdF\u1d65 (Jy Hz)"
yl.axis_label_text_font = FONT
yl.axis_label_text_font_size = "50px"
yl.axis_label_text_font_style = "normal"
yl.axis_label_text_color = "black"
yl.axis_label_standoff = 30

xt = LogAxis()
style_axis(xt, X_MAJOR, x_minor, False)
p.add_layout(xt, "above")
yr = LogAxis()
style_axis(yr, Y_MAJOR, y_minor, False)
p.add_layout(yr, "right")


def arr(a):
    return np.asarray(a, dtype=float)


# SED curves
for F, col in ((SED_UNOBS, GOLD), (SED_11DEC, MAGENTA), (SED_21DEC, BLUE)):
    p.line(SED_E, arr(F) * U, line_color=col, line_width=3)


def errbars(E, F, ERR, col, w=1.5, caps=False):
    E, F, ERR = arr(E), arr(F), arr(ERR)
    lo = np.maximum(F - ERR, 0.005) * U
    hi = (F + ERR) * U
    p.segment(x0=E, y0=lo, x1=E, y1=hi, line_color=col, line_width=w)
    if caps:
        p.segment(x0=E / 1.012, y0=F * U, x1=E * 1.012, y1=F * U, line_color=col, line_width=w)


# X-ray data
errbars(UNOBS_E, UNOBS_F, UNOBS_ERR, GREEN)
errbars(UNOBS2_E, UNOBS2_F, UNOBS2_ERR, GREEN)
errbars(OBSC_E, DEC21_F, DEC21_ERR, LBLUE)
errbars(OBSC2_E, DEC21_2F, DEC21_2ERR, LBLUE)
errbars(NU_E, NU_DEC21_F, NU_DEC21_ERR, LBLUE, caps=True)
errbars(OBSC_E, DEC11_F, DEC11_ERR, RED)
errbars(OBSC2_E, DEC11_2F, DEC11_2ERR, RED)
errbars(NU_E, NU_DEC11_F, NU_DEC11_ERR, RED, caps=True)

# spectral models
for E, F in ((UNOBS_MODEL_E, UNOBS_MODEL_F), (DEC21_MODEL_E, DEC21_MODEL_F),
             (DEC11_MODEL_E, DEC11_MODEL_F)):
    p.line(E, arr(F) * U, line_color="black", line_width=1.8)

# OM and COS points
for F, col in ((OM_11DEC, MAGENTA), (OM_21DEC, BLUE)):
    p.segment(x0=OM_E_LO, y0=arr(F) * U, x1=OM_E_HI, y1=arr(F) * U, line_color=col, line_width=2)
    p.scatter(OM_E, arr(F) * U, marker="circle_cross", size=15, fill_color=None,
              line_color=col, line_width=2)
p.segment(x0=OM_UNOBS_E_LO, y0=arr(OM_UNOBS) * U, x1=OM_UNOBS_E_HI, y1=arr(OM_UNOBS) * U,
          line_color=GOLD, line_width=2)
p.scatter(OM_UNOBS_E, arr(OM_UNOBS) * U, marker="circle_cross", size=15, fill_color=None,
          line_color=GOLD, line_width=2)
for F, col in ((COS_11DEC, MAGENTA), (COS_21DEC, BLUE)):
    p.scatter(COS_E, arr(F) * U, marker="square_cross", size=14, fill_color=None,
              line_color=col, line_width=2)

# annotations
big = dict(text_font=value(FONT), text_font_size=value("52px"), text_color="black",
           text_align="left", text_baseline="alphabetic")
p.text(x=[0.01299, 0.4128, 0.004012, 0.002345, 0.002345, 0.1249, 4.027, 11.96],
       y=[2.77e13, 2.56e13, 4.67e12, 1.283e11, 6.78e10, 1.348e11, 5.43e11, 1.812e12],
       text=["COS", "Mehdipour+17", "OM", "Modelled", "with SPEX", "RGS", "EPIC-pn", "NuSTAR"],
       **big)

leg = dict(text_font=value(FONT), text_font_size=value("42px"),
           text_align="left", text_baseline="alphabetic")
p.text(x=[0.003682] * 3, y=[2.04e12, 1.241e12, 7.70e11],
       text=["unobscured epoch SED", "11 Dec 2016 SED", "21 Dec 2016 SED"],
       text_color=[GOLD, MAGENTA, BLUE], **leg)
p.text(x=[2.262] * 3, y=[1.645e11, 1.010e11, 6.20e10],
       text=["unobscured epoch", "11 Dec 2016 (obscured)", "21 Dec 2016 (obscured)"],
       text_color=[GREEN, RED, LBLUE], **leg)

open("out.html", "w").write(file_html(p, INLINE))
